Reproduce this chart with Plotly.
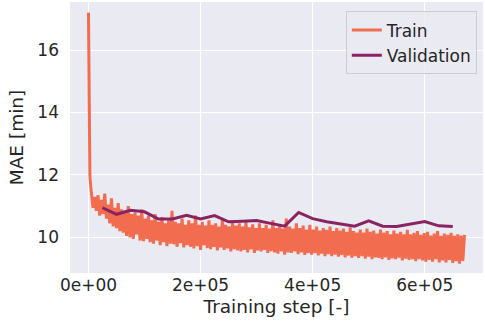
import plotly.graph_objects as go

# ---- data ----
train_steps_start = [0, 500, 1000, 1500, 2000, 2500, 3000, 3500, 4000, 4500]
train_mae_start = [17.2, 15.0, 13.6, 12.8, 12.3, 12.0, 11.85, 11.7, 11.6, 11.55]

train_steps_main = list(range(5000, 672000, 3000))
train_mae_main = [
    11.45, 10.95, 11.30, 10.85, 11.35, 10.70, 11.20, 10.75, 11.40, 10.60,
    11.05, 10.45, 11.25, 10.35, 10.95, 10.30, 11.10, 10.20, 10.90, 10.15,
    10.85, 10.05, 11.00, 10.00, 10.75, 9.95, 10.80, 10.10, 10.70, 9.90,
    10.90, 9.88, 10.60, 9.95, 10.70, 9.85, 10.55, 9.80, 10.75, 9.90,
    10.50, 9.75, 10.65, 9.85, 10.45, 9.72, 10.55, 9.80, 10.85, 9.78,
    10.50, 9.70, 10.45, 9.82, 10.60, 9.68, 10.40, 9.75, 10.55, 9.70,
    10.45, 9.65, 10.70, 9.72, 10.40, 9.60, 10.50, 9.75, 10.38, 9.66,
    10.55, 9.62, 10.40, 9.70, 10.45, 9.58, 10.35, 9.68, 10.60, 9.60,
    10.40, 9.65, 10.35, 9.55, 10.50, 9.62, 10.38, 9.58, 10.45, 9.55,
    10.35, 9.60, 10.50, 9.52, 10.32, 9.62, 10.42, 9.50, 10.30, 9.58,
    10.45, 9.55, 10.30, 9.60, 10.40, 9.50, 10.28, 9.56, 10.55, 9.52,
    10.30, 9.48, 10.42, 9.55, 10.28, 9.45, 10.60, 9.52, 10.35, 9.50,
    10.28, 9.55, 10.45, 9.46, 10.30, 9.52, 10.38, 9.44, 10.25, 9.50,
    10.40, 9.45, 10.25, 9.50, 10.35, 9.42, 10.22, 9.48, 10.30, 9.40,
    10.24, 9.46, 10.35, 9.40, 10.20, 9.45, 10.30, 9.38, 10.22, 9.44,
    10.28, 9.36, 10.18, 9.42, 10.32, 9.35, 10.20, 9.40, 10.15, 9.34,
    10.25, 9.40, 10.15, 9.32, 10.28, 9.38, 10.18, 9.30, 10.22, 9.36,
    10.12, 9.34, 10.25, 9.30, 10.15, 9.36, 10.20, 9.28, 10.10, 9.33,
    10.22, 9.30, 10.12, 9.35, 10.18, 9.26, 10.10, 9.32, 10.24, 9.28,
    10.10, 9.30, 10.15, 9.24, 10.20, 9.30, 10.08, 9.26, 10.14, 9.22,
    10.18, 9.28, 10.06, 9.22, 10.12, 9.30, 10.20, 9.20, 10.05, 9.26,
    10.12, 9.20, 10.08, 9.28, 10.15, 9.18, 10.05, 9.24, 10.10, 9.16,
    10.06, 9.25, 10.08,
]

val_steps = [25000, 50000, 75000, 100000, 125000, 150000, 175000, 200000,
             225000, 250000, 275000, 300000, 325000, 350000, 375000, 400000,
             425000, 450000, 475000, 500000, 525000, 550000, 575000, 600000,
             625000, 650000]
val_mae = [10.95, 10.74, 10.87, 10.82, 10.59, 10.59, 10.71, 10.59,
           10.70, 10.50, 10.52, 10.54, 10.45, 10.36, 10.80, 10.60,
           10.50, 10.43, 10.36, 10.53, 10.36, 10.35, 10.43, 10.51,
           10.37, 10.35]

x_tickvals = [0, 200000, 400000, 600000]
x_ticktext = ["0e+00", "2e+05", "4e+05", "6e+05"]
y_tickvals = [10, 12, 14, 16]

train_x = train_steps_start + train_steps_main
train_y = train_mae_start + train_mae_main

TRAIN_COLOR = "#F26C50"
VAL_COLOR = "#8A2362"
TEXT = "#262626"
FONT = "DejaVu Sans"

fig = go.Figure()
fig.add_trace(go.Scatter(
    x=train_x, y=train_y, mode="lines", name="Train",
    line=dict(color=TRAIN_COLOR, width=3),
))
fig.add_trace(go.Scatter(
    x=val_steps, y=val_mae, mode="lines", name="Validation",
    line=dict(color=VAL_COLOR, width=3),
))

fig.update_layout(
    width=485, height=336,
    margin=dict(l=70, r=2, t=2, b=63),
    paper_bgcolor="white",
    plot_bgcolor="#EAEAF2",
    font=dict(family=FONT, size=17, color=TEXT),
    showlegend=True,
    legend=dict(
        x=0.985, y=0.965, xanchor="right", yanchor="top",
        bgcolor="rgba(234,234,242,0.8)",
        bordercolor="#CCCCCC", borderwidth=1,
        font=dict(family=FONT, size=17, color=TEXT),
        tracegroupgap=2,
    ),
)
fig.update_xaxes(
    range=[-33000, 704000],
    tickvals=x_tickvals, ticktext=x_ticktext,
    showgrid=True, gridcolor="white", gridwidth=1.2,
    zeroline=False, showline=False, ticks="",
    tickfont=dict(family=FONT, size=17, color=TEXT),
    title=dict(text="Training step [-]", font=dict(family=FONT, size=18.5, color=TEXT), standoff=6),
)
fig.update_yaxes(
    range=[8.86, 17.54],
    tickvals=y_tickvals,
    showgrid=True, gridcolor="white", gridwidth=1.2,
    zeroline=False, showline=False, ticks="",
    ticklabelstandoff=10,
    tickfont=dict(family=FONT, size=17, color=TEXT),
    title=dict(text="MAE [min]", font=dict(family=FONT, size=18.5, color=TEXT), standoff=8),
)

fig.write_html("out.html")
